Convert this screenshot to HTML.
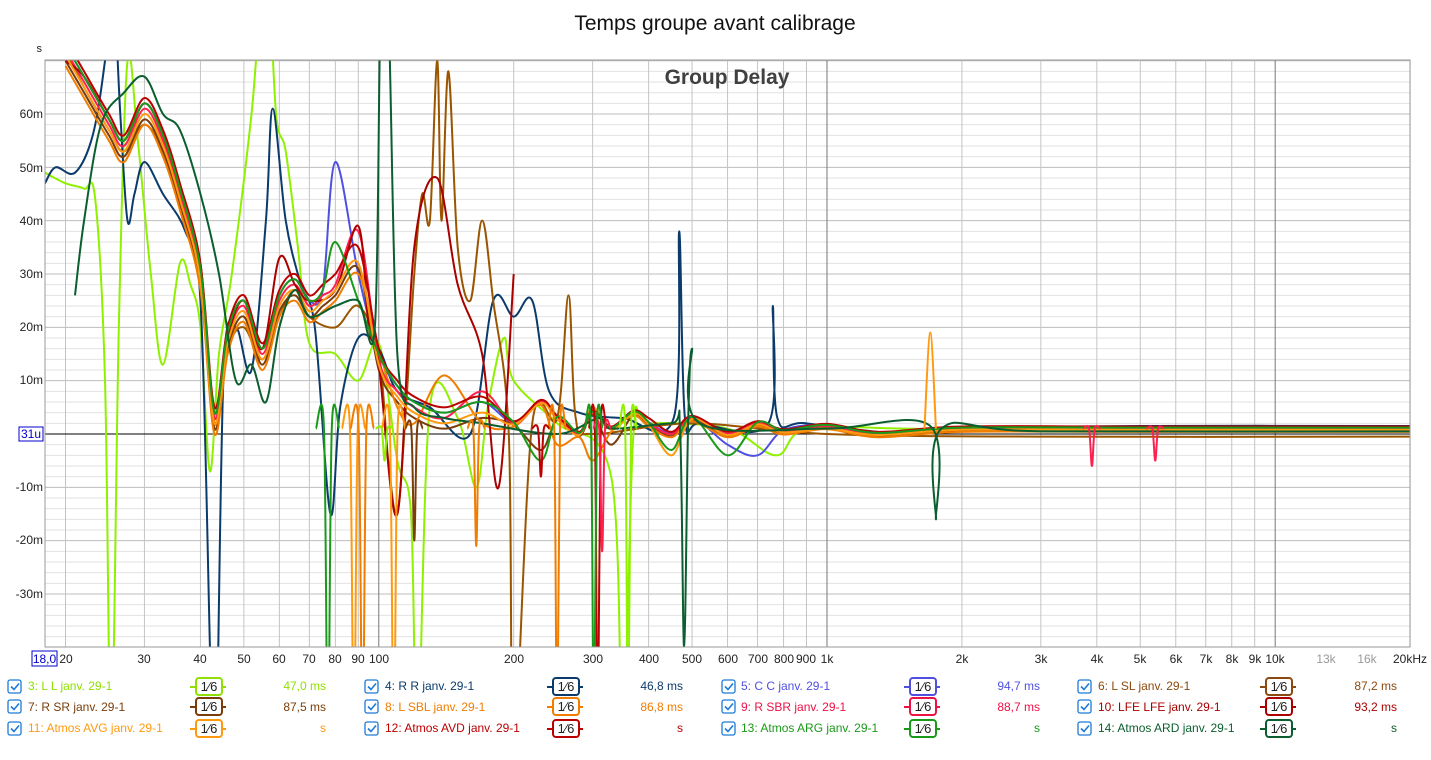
<!DOCTYPE html>
<html><head><meta charset="utf-8">
<style>
html,body{margin:0;padding:0;background:#fff;width:1431px;height:760px;overflow:hidden;font-family:"Liberation Sans",sans-serif;}
svg{position:absolute;left:0;top:0;display:block}
</style></head><body>
<svg width="1431" height="760" xmlns="http://www.w3.org/2000/svg" font-family="Liberation Sans, sans-serif">
<rect width="1431" height="760" fill="#fff"/>
<text x="715" y="30" font-size="21" text-anchor="middle" fill="#111">Temps groupe avant calibrage</text>
<g id="grid"></g>
<text x="727" y="84" font-size="21" font-weight="bold" text-anchor="middle" fill="#404040">Group Delay</text>
<g id="curves" clip-path="url(#cp)"></g>
<defs><clipPath id="cp"><rect x="45" y="60" width="1365" height="587"/></clipPath></defs>
<rect x="45" y="60" width="1365" height="587" fill="none" stroke="#999"/>
<g font-size="12" fill="#222" text-anchor="end">
<text x="42" y="52" font-size="11">s</text>
<text x="43" y="118">60m</text><text x="43" y="172">50m</text><text x="43" y="225">40m</text>
<text x="43" y="278">30m</text><text x="43" y="331">20m</text><text x="43" y="384">10m</text>
<text x="43" y="491">-10m</text><text x="43" y="544">-20m</text><text x="43" y="598">-30m</text>
</g>
<rect x="19" y="427" width="24" height="14" fill="#fff" stroke="#0000cc"/>
<text x="31" y="438" font-size="12" fill="#0000cc" text-anchor="middle">31u</text>
<rect x="32" y="651" width="25" height="15" fill="#fff" stroke="#0000cc"/>
<text x="44.5" y="663" font-size="12" fill="#0000cc" text-anchor="middle">18,0</text>
<g font-size="12" fill="#222" text-anchor="middle">
<text x="66" y="663">20</text><text x="144" y="663">30</text><text x="200" y="663">40</text><text x="244" y="663">50</text>
<text x="279" y="663">60</text><text x="309" y="663">70</text><text x="335" y="663">80</text><text x="358" y="663">90</text>
<text x="379" y="663">100</text><text x="514" y="663">200</text><text x="593" y="663">300</text><text x="649" y="663">400</text>
<text x="692" y="663">500</text><text x="728" y="663">600</text><text x="758" y="663">700</text><text x="784" y="663">800</text>
<text x="806" y="663">900</text><text x="827" y="663">1k</text><text x="962" y="663">2k</text><text x="1041" y="663">3k</text>
<text x="1097" y="663">4k</text><text x="1140" y="663">5k</text><text x="1176" y="663">6k</text><text x="1206" y="663">7k</text>
<text x="1232" y="663">8k</text><text x="1255" y="663">9k</text><text x="1275" y="663">10k</text>
<text x="1326" y="663" fill="#999">13k</text><text x="1367" y="663" fill="#999">16k</text><text x="1410" y="663">20kHz</text>
</g>
<g id="legend" font-size="12"></g>
<g font-size="12">
<text x="28" y="690" fill="#8fe000">3: L L janv. 29-1</text><text x="326" y="690" fill="#8fe000" text-anchor="end">47,0 ms</text>
<text x="385" y="690" fill="#0b3b6b">4: R R janv. 29-1</text><text x="683" y="690" fill="#0b3b6b" text-anchor="end">46,8 ms</text>
<text x="741" y="690" fill="#5050e0">5: C C janv. 29-1</text><text x="1040" y="690" fill="#5050e0" text-anchor="end">94,7 ms</text>
<text x="1098" y="690" fill="#8b4a0f">6: L SL janv. 29-1</text><text x="1397" y="690" fill="#8b4a0f" text-anchor="end">87,2 ms</text>
<text x="28" y="711" fill="#7a3d0a">7: R SR janv. 29-1</text><text x="326" y="711" fill="#7a3d0a" text-anchor="end">87,5 ms</text>
<text x="385" y="711" fill="#f07c00">8: L SBL janv. 29-1</text><text x="683" y="711" fill="#f07c00" text-anchor="end">86,8 ms</text>
<text x="741" y="711" fill="#ee1144">9: R SBR janv. 29-1</text><text x="1040" y="711" fill="#ee1144" text-anchor="end">88,7 ms</text>
<text x="1098" y="711" fill="#aa0000">10: LFE LFE janv. 29-1</text><text x="1397" y="711" fill="#aa0000" text-anchor="end">93,2 ms</text>
<text x="28" y="732" fill="#ff9a10">11: Atmos AVG janv. 29-1</text><text x="326" y="732" fill="#ff9a10" text-anchor="end">s</text>
<text x="385" y="732" fill="#bb0000">12: Atmos AVD janv. 29-1</text><text x="683" y="732" fill="#bb0000" text-anchor="end">s</text>
<text x="741" y="732" fill="#1a9a1a">13: Atmos ARG janv. 29-1</text><text x="1040" y="732" fill="#1a9a1a" text-anchor="end">s</text>
<text x="1098" y="732" fill="#0b5e2f">14: Atmos ARD janv. 29-1</text><text x="1397" y="732" fill="#0b5e2f" text-anchor="end">s</text>
</g>
</svg>
<script>
var NS="http://www.w3.org/2000/svg";
function X(f){return 45+448.2*Math.log10(f/18);}
function Y(m){return 434-5.333*m;}
function el(p,t,a){var e=document.createElementNS(NS,t);for(var k in a)e.setAttribute(k,a[k]);p.appendChild(e);return e;}
var g=document.getElementById('grid');
for(var m=-38;m<=70;m+=2){var maj=(m%10==0);el(g,'line',{x1:45,x2:1410,y1:Y(m),y2:Y(m),stroke:maj?'#bdbdbd':'#e2e2e2','stroke-width':1});}
var fs=[20,30,40,50,60,70,80,90,100,200,300,400,500,600,700,800,900,1000,2000,3000,4000,5000,6000,7000,8000,9000,10000,20000];
fs.forEach(function(f){var d=(f==100||f==1000||f==10000);el(g,'line',{x1:X(f),x2:X(f),y1:60,y2:647,stroke:d?'#777':'#c4c4c4'});});
el(g,'line',{x1:45,x2:1410,y1:Y(0),y2:Y(0),stroke:'#000'});
var base=[[20,72],[22,66],[25,58],[27,54],[30,61],[33,55],[36,45],[40,30],[43,3],[46,18],[50,24],[55,15],[60,25],[65,28],[70,24],[75,26],[80,28],[90,33],[100,14],[110,8],[120,5],[140,3],[170,5],[200,2],[230,6],[250,3],[280,0],[300,4],[330,1],[370,4],[400,2],[450,0],[500,3],[600,0],[700,2],[800,0.5],[1000,1.5],[1300,0],[2000,1],[5000,1],[20000,1]];
function shift(arr,dy,sc){return arr.map(function(p){return [p[0],p[1]*(sc||1)+(p[0]<200?dy:dy*0.2)];});}
function mod(arr,o){return arr.map(function(p){return o[p[0]]!==undefined?[p[0],o[p[0]]]:p;});}
var S=[
['#8ff000',[[18,49],[20,47],[22,46],[23.3,44],[24.5,10],[25.3,-60],[26.3,20],[27.5,70],[29,55],[31,30],[33,13],[36,32],[38,28],[40,20],[42,-7],[44,15],[47,30],[52,60],[56,90],[59,60],[62,53],[66,35],[70,17],[80,15],[90,10],[100,17],[110,-5],[118,-15],[122,-60],[130,5],[150,3],[165,-10],[175,5],[190,18],[200,10],[250,2],[330,-8],[350,-60],[370,0],[400,2],[600,1],[770,-4],[900,1],[1500,1],[3000,0.5],[20000,0.5]]],
['#0b3b6b',[[18,47],[19,50],[21,49],[23,56],[24.5,70],[25.5,85],[26.5,60],[27.5,40],[28.5,45],[30,51],[33,45],[37,38],[40,25],[42,-40],[43,-80],[45,10],[48,20],[52,12],[56,40],[58,61],[62,40],[67,28],[72,20],[78,-15],[82,5],[90,18],[100,16],[110,8],[130,5],[160,0],[180,25],[200,22],[220,25],[240,8],[280,4],[350,3],[455,3],[468,38],[482,3],[520,2],[740,2],[757,24],[775,3],[900,2],[1500,0],[2000,1],[5000,1.5],[20000,1.5]]],
['#5050e0',mod(shift(base,1),{80:51,90:30,600:-2,700:-4})],
['#9a5500',[[20,72],[22,65],[25,57],[27,53],[30,58],[33,53],[36,44],[40,28],[43,2],[46,16],[50,20],[55,14],[60,22],[65,27],[70,22],[80,20],[90,24],[100,15],[105,-5],[110,-15],[115,5],[120,30],[125,45],[130,40],[135,70],[138,40],[143,68],[150,35],[160,25],[170,40],[180,25],[195,0],[200,-60],[220,2],[250,3],[265,26],[275,3],[300,0],[500,2],[1000,0],[3000,-0.5],[20000,-0.5]]],
['#7a3d0a',mod(shift(base,-2),{230:-3,330:-2})],
['#f07c00',mod(shift(base,-3),{100:16,140:11,220:-10,250:-2,300:-5})],
['#ff2050',mod(shift(base,0),{90:38,170:8,320:-22,650:10})],
['#aa0000',[[20,70],[22,67],[25,59],[27,55],[30,62],[33,56],[36,46],[40,32],[43,2],[46,18],[50,25],[55,16],[60,33],[65,28],[70,25],[80,27],[90,39],[95,20],[100,13],[110,-15],[120,35],[135,48],[150,28],[170,15],[185,-10],[200,30]]],
['#ff9a10',mod(shift(base,-1),{300:5,1000:1,450:-4})],
['#bb0000',mod(shift(base,2),{400:3,270:-5,350:4})],
['#1a9a1a',mod(shift(base,1),{80:36,90:25,230:-5,450:-3,600:-4})],
['#0b5e2f',[[21,26],[22,40],[24,58],[27,64],[30,67],[33,60],[36,57],[40,45],[44,30],[48,10],[52,13],[56,6],[60,20],[65,27],[70,22],[80,24],[90,25],[98,20],[101,80],[105,80],[110,15],[120,5],[140,3],[170,2],[250,0],[310,3],[330,1],[450,2],[470,1],[480,-40],[490,2],[500,16],[520,2],[1000,1],[1700,1.5],[1750,-16],[1800,1],[3000,0.5],[20000,0.5]]]
];
var cv=document.getElementById('curves');
function path(pts){pts=pts.map(function(p){return [X(p[0]),Y(p[1])];});var d='M'+pts[0][0]+','+pts[0][1];
for(var i=0;i<pts.length-1;i++){var p0=pts[i-1]||pts[i],p1=pts[i],p2=pts[i+1],p3=pts[i+2]||p2;
d+=' C'+(p1[0]+(p2[0]-p0[0])/6)+','+(p1[1]+(p2[1]-p0[1])/6)+' '+(p2[0]-(p3[0]-p1[0])/6)+','+(p2[1]-(p3[1]-p1[1])/6)+' '+p2[0]+','+p2[1];}return d;}
S.forEach(function(s){el(cv,'path',{d:path(s[1]),fill:'none',stroke:s[0],'stroke-width':2});});
function spike(col,f,v,w){w=w||0.015;return [col,[[f*(1-3*w),1],[f*(1-w),1],[f,v],[f*(1+w),1],[f*(1+3*w),1]]];}
[['#ff9a10',[[1650,1],[1700,19],[1750,1]]],
 spike('#ff2050',3900,-6),spike('#ff2050',5400,-5),
 spike('#ff9a10',88,-60,0.02),spike('#ff9a10',108,-60,0.02),spike('#f07c00',250,-60),
 spike('#bb0000',308,-60),spike('#ff2050',315,-22),spike('#1a9a1a',302,-60),spike('#8ff000',103,-5),
 spike('#8ff000',360,-60),spike('#f07c00',92,-60,0.02),spike('#1a9a1a',77,-60,0.02),spike('#7a3d0a',120,-20),
 spike('#f07c00',165,-21),spike('#bb0000',230,-8)
].forEach(function(s){el(cv,'path',{d:path(s[1]),fill:'none',stroke:s[0],'stroke-width':2});});
var lg=document.getElementById('legend');
var cols=[8,365,722,1078],rows=[686,706,728];
var cc=[['#8fe000','#0b3b6b','#5050e0','#8b4a0f'],['#7a3d0a','#f07c00','#ee1144','#aa0000'],['#ff9a10','#bb0000','#1a9a1a','#0b5e2f']];
rows.forEach(function(y,r){cols.forEach(function(x,c){
 el(lg,'rect',{x:x,y:y-6,width:13,height:13,rx:2,fill:'#fff',stroke:'#1e7ad8','stroke-width':1.3});
 el(lg,'path',{d:'M'+(x+3)+','+(y+0.5)+' l3,3 l5,-6',fill:'none',stroke:'#1e7ad8','stroke-width':1.6});
 var col=cc[r][c];
 el(lg,'line',{x1:x+182,x2:x+218,y1:y+1,y2:y+1,stroke:col,'stroke-width':2});
 el(lg,'rect',{x:x+188,y:y-8,width:26,height:17,rx:3,fill:'#fff',stroke:col,'stroke-width':2});
 var t=el(lg,'text',{x:x+201,y:y+5,'text-anchor':'middle',fill:'#222','font-size':13});t.textContent='1⁄6';
});});
</script>
</body></html>
